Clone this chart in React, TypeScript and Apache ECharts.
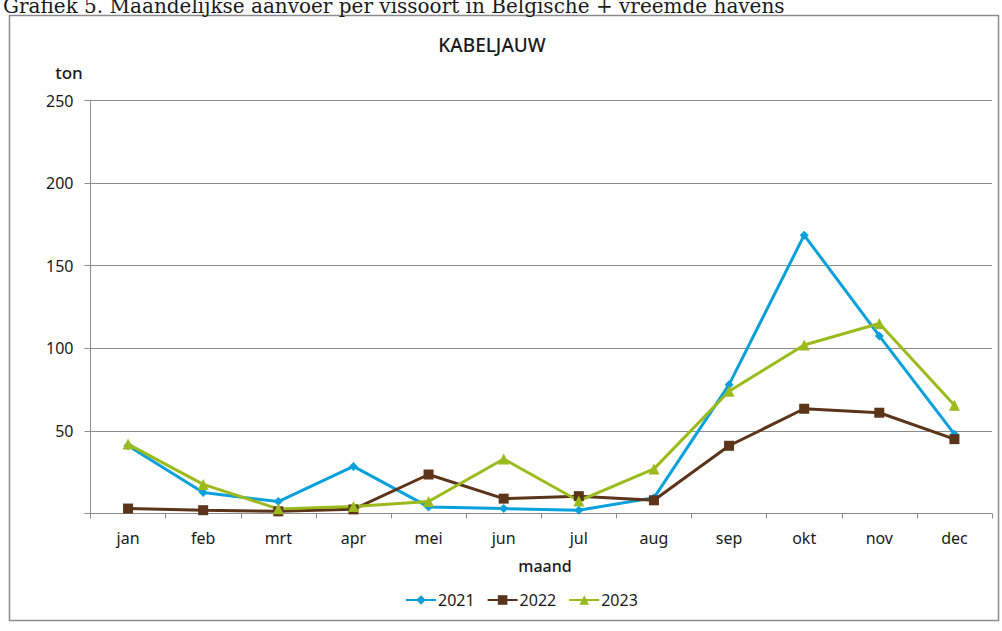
import React, { useEffect, useRef } from "react";
import * as echarts from "echarts";

const months = ["jan", "feb", "mrt", "apr", "mei", "jun", "jul", "aug", "sep", "okt", "nov", "dec"];
const y2021 = [41, 12.7, 7.2, 28.5, 4, 3, 2, 9.5, 78, 168.5, 107.5, 48];
const y2022 = [3, 2, 1.3, 2.5, 23.6, 9, 10.5, 8, 41, 63.4, 61, 45];
const y2023 = [42, 17.6, 2.8, 4.3, 7.3, 33, 7.6, 27, 74, 102, 115, 65.5];
const yTicks = { min: 0, max: 250, interval: 50 };

const COLORS = { c2021: "#0aa0dc", c2022: "#5b3419", c2023: "#9bbb1c" };
const FONT = "'Noto Sans', sans-serif";

export default function App() {
  const ref = useRef<HTMLDivElement>(null);
  useEffect(() => {
    const chart = echarts.init(ref.current!, null, { renderer: "svg" });
    const mk = (name: string, data: number[], color: string, symbol: string, size: number) => ({
      name,
      type: "line",
      data,
      symbol,
      symbolSize: size,
      showAllSymbol: true,
      lineStyle: { color, width: 3 },
      itemStyle: { color },
    });
    chart.setOption({
      animation: false,
      textStyle: { fontFamily: FONT },
      grid: { left: 90.5, right: 10, top: 100.5, bottom: 117.5, containLabel: false },
      xAxis: {
        type: "category",
        data: months,
        boundaryGap: true,
        axisLine: { lineStyle: { color: "#8c8c8c", width: 1 } },
        axisTick: { show: true, length: 5, lineStyle: { color: "#8c8c8c" } },
        axisLabel: { color: "#1a1a1a", fontSize: 16, margin: 16, fontFamily: FONT },
      },
      yAxis: {
        type: "value",
        min: yTicks.min,
        max: yTicks.max,
        interval: yTicks.interval,
        axisLine: { show: true, lineStyle: { color: "#8c8c8c", width: 1 } },
        axisTick: { show: true, length: 6, lineStyle: { color: "#8c8c8c" } },
        axisLabel: {
          color: "#1a1a1a",
          fontSize: 16,
          margin: 17,
          fontFamily: FONT,
          formatter: (v: number) => (v === 0 ? "" : String(v)),
        },
        splitLine: { show: true, lineStyle: { color: "#8c8c8c", width: 1 } },
      },
      legend: {
        bottom: 18,
        left: 400,
        itemWidth: 30,
        itemHeight: 12,
        itemGap: 12,
        textStyle: { fontSize: 16, color: "#1a1a1a", fontFamily: FONT, padding: [0, 0, 0, -3] },
        data: ["2021", "2022", "2023"],
      },
      series: [
        mk("2021", y2021, COLORS.c2021, "diamond", 9),
        mk("2022", y2022, COLORS.c2022, "rect", 10),
        mk("2023", y2023, COLORS.c2023, "triangle", 11),
      ],
      graphic: [
        {
          type: "rect",
          shape: { x: 9.5, y: 15.5, width: 989, height: 605 },
          style: { fill: "none", stroke: "#8c8c8c", lineWidth: 1.5 },
          silent: true,
        },
        {
          type: "text",
          x: 3,
          y: 16,
          style: {
            text: "Grafiek 5. Maandelijkse aanvoer per vissoort in Belgische + vreemde havens",
            font: "20px 'DejaVu Serif', serif",
            fill: "#1a1a1a",
            verticalAlign: "bottom",
          },
        },
        {
          type: "text",
          x: 492,
          y: 45,
          style: {
            text: "KABELJAUW",
            font: "500 19px 'Noto Sans', sans-serif",
            fill: "#1a1a1a",
            align: "center",
            verticalAlign: "middle",
          },
        },
        {
          type: "text",
          x: 69,
          y: 72,
          style: {
            text: "ton",
            font: "500 17px 'Noto Sans', sans-serif",
            fill: "#1a1a1a",
            align: "center",
            verticalAlign: "middle",
          },
        },
        {
          type: "text",
          x: 545,
          y: 566,
          style: {
            text: "maand",
            font: "500 16px 'Noto Sans', sans-serif",
            fill: "#1a1a1a",
            align: "center",
            verticalAlign: "middle",
          },
        },
      ],
    });
    return () => chart.dispose();
  }, []);
  return (
    <div
      ref={ref}
      style={{ position: "fixed", left: 0, top: 0, width: 1002, height: 631, background: "#fff" }}
    />
  );
}
